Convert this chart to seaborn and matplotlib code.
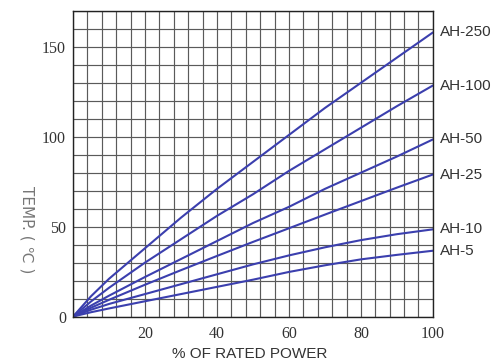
import numpy as np
import pandas as pd
import matplotlib
matplotlib.use('Agg')
import matplotlib.pyplot as plt
import seaborn as sns

# % of rated power
power = [0, 5, 10, 20, 30, 40, 50, 60, 70, 80, 90, 100]

# temperature rise (C)
ah_250 = [0, 11.3, 21, 38, 55, 71, 86, 101, 116, 130, 144, 158]
ah_100 = [0, 8.4, 16, 30, 43, 56, 68, 81, 93, 105, 117, 128.5]
ah_50 = [0, 6.1, 11.6, 22, 32, 42, 52, 61, 71, 80, 89, 98.5]
ah_25 = [0, 4.9, 9.3, 17.7, 25.8, 33.7, 41.5, 49.1, 56.7, 64.2, 71.7, 79]
ah_10 = [0, 3.8, 7, 12.5, 18, 23.5, 29, 34, 38.5, 42.5, 45.8, 48.5]
ah_5 = [0, 2.4, 4.5, 8.5, 12.5, 16.5, 20.5, 24.8, 28.5, 31.8, 34.3, 36.6]

models = ['AH-250', 'AH-100', 'AH-50', 'AH-25', 'AH-10', 'AH-5']
series = [ah_250, ah_100, ah_50, ah_25, ah_10, ah_5]

df = pd.concat([pd.DataFrame({'power': power, 'temp': s, 'model': m})
                for m, s in zip(models, series)], ignore_index=True)

sns.set_style('white')
plt.rcParams['font.family'] = ['Liberation Serif', 'DejaVu Serif']

fig, ax = plt.subplots(figsize=(4.97, 3.63), dpi=100)
fig.subplots_adjust(left=0.147, right=0.871, top=0.970, bottom=0.128)

blue = '#3b3fae'
sns.lineplot(data=df, x='power', y='temp', hue='model', palette=[blue] * 6,
             linewidth=1.5, legend=False, ax=ax)

ax.set_xlim(0, 100)
ax.set_ylim(0, 170)
ax.set_xticks([20, 40, 60, 80, 100])
ax.set_yticks([0, 50, 100, 150])
ax.set_xticks(np.arange(0, 101, 4), minor=True)
ax.set_yticks(np.arange(0, 171, 10), minor=True)
ax.grid(which='both', color='#5a5a5a', linewidth=0.85)
ax.set_axisbelow(True)
ax.tick_params(which='both', length=0, labelsize=11.5, labelcolor='#333333')
ax.tick_params(axis='x', pad=7)
ax.tick_params(axis='y', pad=5)
for sp in ax.spines.values():
    sp.set_color('#222222')
    sp.set_linewidth(1.0)

for m, s in zip(models, series):
    ax.annotate(m, xy=(power[-1], s[-1]), xytext=(5, 0), textcoords='offset points',
                va='center', ha='left', fontsize=11, color='#333333',
                family=['Liberation Sans', 'DejaVu Sans'], annotation_clip=False)

ax.set_xlabel('% OF RATED POWER', fontsize=11, color='#333333',
              family=['Liberation Sans', 'DejaVu Sans'])
ax.xaxis.set_label_coords(0.49, -0.10)
ax.set_ylabel('TEMP. ( ℃ )', fontsize=11, color='#777777', rotation=270,
              family=['DejaVu Sans'])
ax.yaxis.set_label_coords(-0.15, 0.285)

fig.savefig('out.png', dpi=100)
